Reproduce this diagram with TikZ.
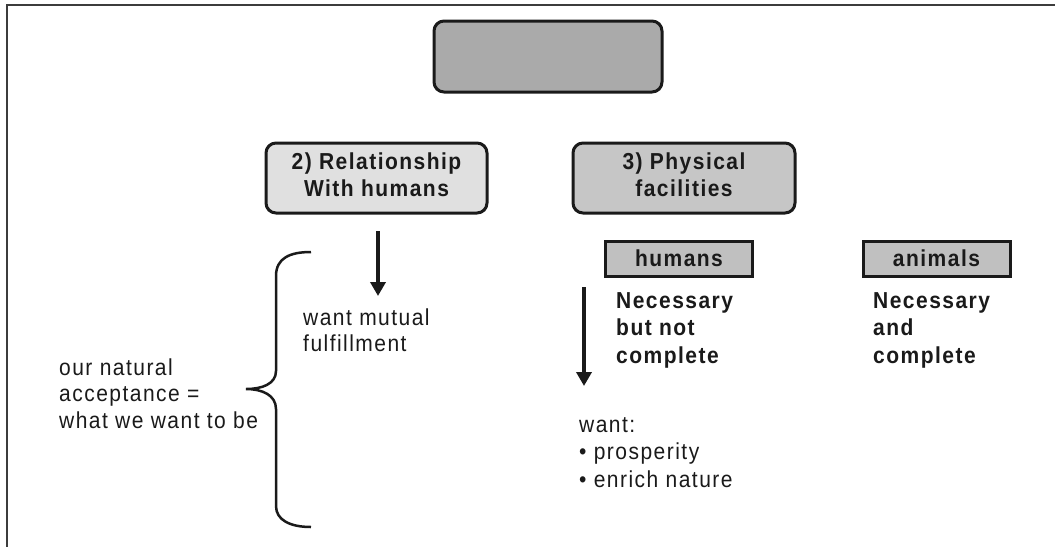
\documentclass[tikz,border=0pt]{standalone}
\usepackage{fontspec}
\usepackage{graphicx}
\setmainfont{Liberation Sans}[LetterSpace=7]
\usetikzlibrary{arrows.meta}
\definecolor{ink}{HTML}{1A1A1A}
\definecolor{topfill}{HTML}{AAAAAA}
\definecolor{relfill}{HTML}{E0E0E0}
\definecolor{phyfill}{HTML}{C6C6C6}
\definecolor{tagfill}{HTML}{C0C0C0}
\newcommand\blk[1]{\scalebox{1}[1.1]{\begin{tabular}[t]{@{}l@{}}#1\end{tabular}}}
\newcommand\cblk[1]{\scalebox{1}[1.1]{\begin{tabular}{@{}c@{}}#1\end{tabular}}}
\tikzset{
  rbox/.style={draw=ink, line width=3pt, rounded corners=10pt, inner sep=0pt,
    font=\fontsize{21}{24.5}\selectfont\bfseries, text=ink},
  tagbox/.style={draw=ink, line width=3pt, fill=tagfill, inner sep=0pt,
    minimum width=147pt, minimum height=35pt, font=\fontsize{21}{24.5}\selectfont\bfseries, text=ink},
  txt/.style={anchor=base west, inner sep=0pt, text=ink, font=\fontsize{21}{24.2}\selectfont},
  btxt/.style={anchor=base west, inner sep=0pt, text=ink, font=\fontsize{21}{25}\selectfont\bfseries},
  arr/.style={draw=ink, line width=3.5pt, -{Triangle[length=14pt,width=15pt]}},
  brace/.style={draw=ink, line width=2.5pt},
  frame/.style={draw=ink!85, line width=2pt}
}
\begin{document}
\begin{tikzpicture}[x=1pt,y=-1pt]
\useasboundingbox (0,0) rectangle (1055,547);
% frame
\draw[frame] (1055,5) -- (7,5) -- (7,547);
% boxes
\node[rbox, fill=topfill, minimum width=228pt, minimum height=71pt] (top) at (548,56.5) {};
\node[rbox, fill=relfill, minimum width=221pt, minimum height=70pt] (rel) at (376.5,178) {\raisebox{3pt}{\cblk{2) Relationship\\With humans}}};
\node[rbox, fill=phyfill, minimum width=222pt, minimum height=70pt] (phy) at (684,178) {\raisebox{3pt}{\cblk{3) Physical\\facilities}}};
\node[tagbox] (hum) at (679,258.5) {\scalebox{1}[1.1]{humans}};
\node[tagbox] (ani) at (936.5,258.5) {\scalebox{1}[1.1]{animals}};
% arrows
\coordinate (a1s) at (378,231);
\coordinate (a1e) at (378,296);
\coordinate (a2s) at (584,287);
\coordinate (a2e) at (584,386);
\draw[arr] (a1s) -- (a1e);
\draw[arr] (a2s) -- (a2e);
% texts
\node[txt] (mutual) at (303,325) {\blk{want mutual\\fulfillment}};
\node[txt] (accept) at (59,375) {\blk{our natural\\acceptance =\\what we want to be}};
\node[btxt] (nec1) at (616,308) {\blk{Necessary\\but not\\complete}};
\node[btxt] (nec2) at (873,308) {\blk{Necessary\\and\\complete}};
\node[txt, font=\fontsize{21}{25}\selectfont] (want) at (579,432) {\blk{want:\\\textbullet\ prosperity\\\textbullet\ enrich nature}};
% brace
\draw[brace] (311,252) .. controls (290,252) and (276,258) .. (276,276) -- (276,371)
  .. controls (276,384) and (262,389) .. (246,389)
  .. controls (262,389) and (276,395) .. (276,409) -- (276,506)
  .. controls (276,520) and (290,527) .. (311,527);
\end{tikzpicture}
\end{document}
